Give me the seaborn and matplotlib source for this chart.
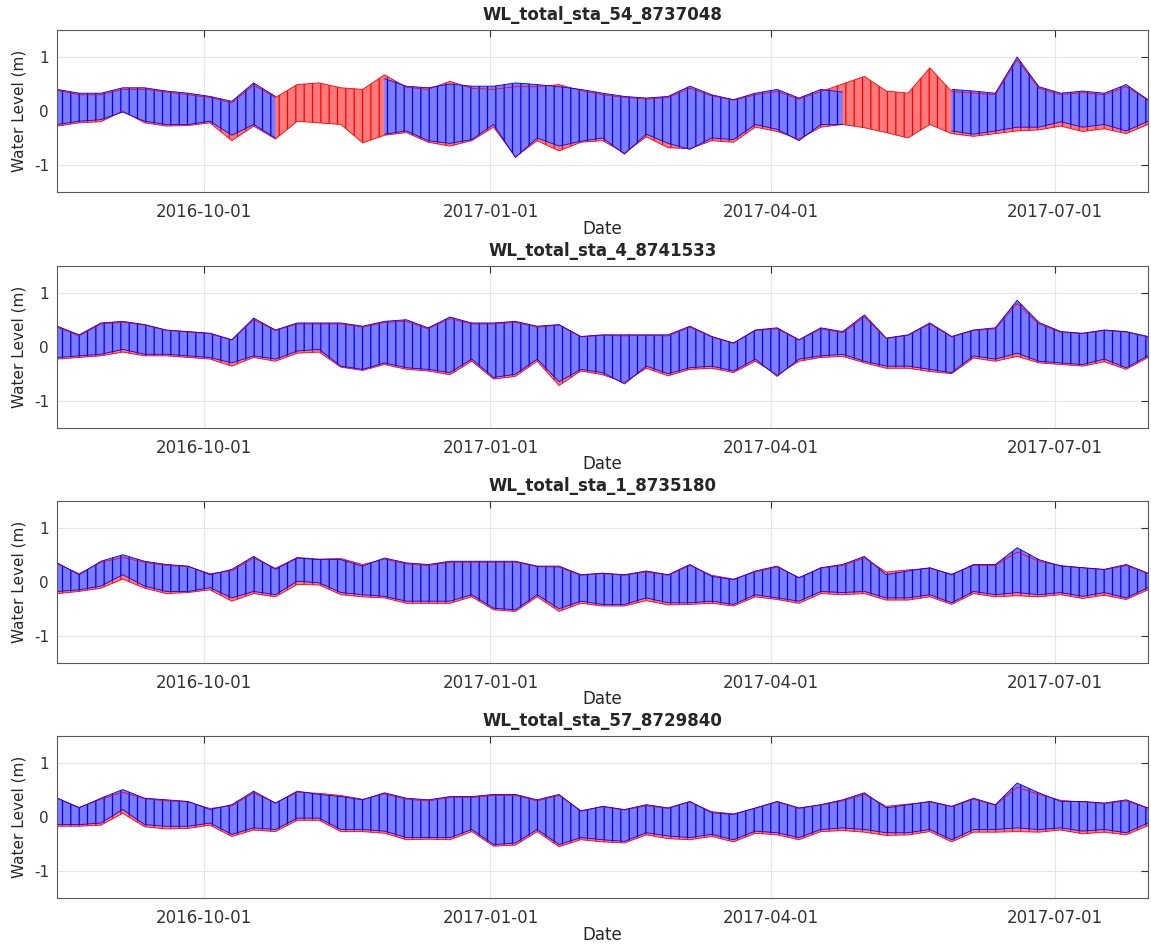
import numpy as np
import pandas as pd
import matplotlib
matplotlib.use("Agg")
import matplotlib.pyplot as plt
import matplotlib.dates as mdates
import seaborn as sns

# weekly envelope (low / high of the tidal strokes), metres
dates = pd.date_range("2016-08-15", periods=51, freq="7D")
nan = np.nan

sta54_blue_hi = [0.40, 0.33, 0.33, 0.43, 0.43, 0.37, 0.33, 0.27, 0.18, 0.52,
                 0.27, nan, nan, nan, nan, 0.60, 0.46, 0.43, 0.50, 0.46,
                 0.46, 0.52, 0.49, 0.45, 0.40, 0.33, 0.27, 0.24, 0.27, 0.46,
                 0.30, 0.21, 0.33, 0.40, 0.24, 0.40, 0.35, nan, nan, nan,
                 nan, 0.40, 0.37, 0.33, 1.00, 0.45, 0.33, 0.37, 0.33, 0.49, 0.21]
sta54_blue_lo = [-0.25, -0.19, -0.16, -0.02, -0.19, -0.25, -0.25, -0.19, -0.45, -0.25,
                 -0.50, nan, nan, nan, nan, -0.43, -0.37, -0.55, -0.60, -0.53,
                 -0.25, -0.86, -0.50, -0.65, -0.56, -0.50, -0.80, -0.43, -0.60, -0.71,
                 -0.50, -0.53, -0.25, -0.34, -0.55, -0.25, -0.25, nan, nan, nan,
                 nan, -0.37, -0.43, -0.37, -0.30, -0.30, -0.20, -0.30, -0.25, -0.37, -0.19]
sta54_red_hi = [0.38, 0.30, 0.30, 0.40, 0.40, 0.35, 0.30, 0.25, 0.15, 0.48,
                0.25, 0.49, 0.52, 0.43, 0.40, 0.67, 0.44, 0.40, 0.55, 0.42,
                0.40, 0.45, 0.45, 0.49, 0.38, 0.30, 0.25, 0.22, 0.25, 0.42,
                0.28, 0.20, 0.30, 0.36, 0.22, 0.36, 0.50, 0.64, 0.37, 0.33,
                0.80, 0.36, 0.33, 0.30, 0.95, 0.42, 0.30, 0.34, 0.30, 0.45, 0.20]
sta54_red_lo = [-0.28, -0.22, -0.20, 0.00, -0.22, -0.28, -0.27, -0.22, -0.55, -0.28,
                -0.52, -0.19, -0.22, -0.25, -0.59, -0.45, -0.40, -0.58, -0.65, -0.55,
                -0.30, -0.85, -0.55, -0.74, -0.58, -0.55, -0.78, -0.48, -0.68, -0.70,
                -0.55, -0.58, -0.30, -0.38, -0.52, -0.30, -0.25, -0.31, -0.40, -0.50,
                -0.25, -0.42, -0.47, -0.42, -0.37, -0.35, -0.28, -0.38, -0.33, -0.42, -0.25]

sta4_blue_hi = [0.38, 0.22, 0.44, 0.47, 0.41, 0.31, 0.28, 0.25, 0.13, 0.53,
                0.31, 0.44, 0.44, 0.44, 0.38, 0.47, 0.50, 0.35, 0.55, 0.44,
                0.44, 0.47, 0.38, 0.41, 0.19, 0.22, 0.22, 0.22, 0.22, 0.38,
                0.19, 0.07, 0.31, 0.35, 0.13, 0.35, 0.28, 0.59, 0.16, 0.22,
                0.44, 0.19, 0.31, 0.35, 0.86, 0.45, 0.28, 0.25, 0.31, 0.28, 0.19]
sta4_blue_lo = [-0.20, -0.17, -0.14, -0.05, -0.14, -0.14, -0.17, -0.20, -0.30, -0.17,
                -0.23, -0.08, -0.05, -0.36, -0.42, -0.30, -0.39, -0.42, -0.48, -0.23,
                -0.57, -0.51, -0.23, -0.65, -0.42, -0.48, -0.69, -0.36, -0.50, -0.39,
                -0.36, -0.45, -0.23, -0.55, -0.23, -0.17, -0.14, -0.27, -0.36, -0.36,
                -0.42, -0.48, -0.17, -0.23, -0.12, -0.27, -0.30, -0.33, -0.23, -0.39, -0.17]
sta4_red_hi = [0.36, 0.20, 0.42, 0.45, 0.40, 0.30, 0.27, 0.24, 0.12, 0.50,
               0.30, 0.42, 0.42, 0.42, 0.36, 0.45, 0.47, 0.33, 0.52, 0.42,
               0.42, 0.45, 0.36, 0.40, 0.18, 0.21, 0.20, 0.21, 0.20, 0.36,
               0.18, 0.06, 0.30, 0.33, 0.12, 0.33, 0.26, 0.55, 0.15, 0.21,
               0.42, 0.18, 0.30, 0.33, 0.80, 0.42, 0.27, 0.24, 0.30, 0.27, 0.18]
sta4_red_lo = [-0.23, -0.20, -0.17, -0.10, -0.17, -0.17, -0.20, -0.23, -0.36, -0.20,
               -0.27, -0.12, -0.10, -0.38, -0.44, -0.33, -0.42, -0.45, -0.52, -0.27,
               -0.60, -0.55, -0.27, -0.72, -0.45, -0.52, -0.66, -0.40, -0.54, -0.42,
               -0.40, -0.48, -0.27, -0.52, -0.27, -0.20, -0.18, -0.30, -0.40, -0.40,
               -0.46, -0.50, -0.21, -0.27, -0.18, -0.30, -0.33, -0.36, -0.28, -0.42, -0.20]

sta1_blue_hi = [0.35, 0.13, 0.38, 0.50, 0.38, 0.32, 0.29, 0.13, 0.23, 0.47,
                0.23, 0.44, 0.41, 0.41, 0.29, 0.44, 0.35, 0.32, 0.38, 0.38,
                0.38, 0.38, 0.29, 0.29, 0.13, 0.16, 0.13, 0.20, 0.13, 0.32,
                0.10, 0.04, 0.20, 0.29, 0.07, 0.26, 0.32, 0.47, 0.13, 0.20,
                0.26, 0.13, 0.32, 0.32, 0.63, 0.41, 0.29, 0.26, 0.23, 0.32, 0.16]
sta1_blue_lo = [-0.18, -0.15, -0.08, 0.13, -0.08, -0.18, -0.18, -0.11, -0.30, -0.18,
                -0.24, 0.01, -0.02, -0.20, -0.24, -0.27, -0.36, -0.36, -0.36, -0.24,
                -0.49, -0.52, -0.24, -0.50, -0.36, -0.42, -0.42, -0.30, -0.39, -0.39,
                -0.36, -0.42, -0.24, -0.30, -0.36, -0.18, -0.20, -0.18, -0.30, -0.30,
                -0.24, -0.39, -0.18, -0.24, -0.20, -0.24, -0.20, -0.27, -0.20, -0.30, -0.11]
sta1_red_hi = [0.33, 0.15, 0.36, 0.45, 0.36, 0.30, 0.28, 0.15, 0.20, 0.44,
               0.25, 0.45, 0.42, 0.43, 0.32, 0.42, 0.33, 0.30, 0.36, 0.36,
               0.36, 0.36, 0.28, 0.27, 0.12, 0.15, 0.12, 0.18, 0.12, 0.30,
               0.12, 0.05, 0.18, 0.27, 0.08, 0.25, 0.30, 0.44, 0.18, 0.22,
               0.25, 0.14, 0.30, 0.30, 0.55, 0.38, 0.30, 0.26, 0.22, 0.30, 0.15]
sta1_red_lo = [-0.22, -0.18, -0.12, 0.05, -0.12, -0.22, -0.20, -0.15, -0.36, -0.22,
               -0.28, -0.05, -0.06, -0.24, -0.28, -0.30, -0.40, -0.40, -0.40, -0.28,
               -0.52, -0.55, -0.28, -0.55, -0.40, -0.45, -0.45, -0.35, -0.43, -0.42,
               -0.40, -0.45, -0.28, -0.33, -0.40, -0.22, -0.24, -0.22, -0.34, -0.34,
               -0.28, -0.42, -0.22, -0.28, -0.26, -0.28, -0.24, -0.31, -0.25, -0.33, -0.15]

sta57_blue_hi = [0.35, 0.17, 0.35, 0.51, 0.35, 0.32, 0.29, 0.14, 0.23, 0.48,
                 0.26, 0.48, 0.42, 0.38, 0.32, 0.45, 0.35, 0.32, 0.38, 0.38,
                 0.42, 0.42, 0.32, 0.42, 0.11, 0.20, 0.14, 0.23, 0.17, 0.29,
                 0.08, 0.05, 0.17, 0.29, 0.17, 0.23, 0.32, 0.45, 0.17, 0.23,
                 0.29, 0.20, 0.35, 0.23, 0.63, 0.45, 0.29, 0.29, 0.26, 0.32, 0.17]
sta57_blue_lo = [-0.14, -0.14, -0.11, 0.14, -0.14, -0.17, -0.17, -0.11, -0.32, -0.20,
                 -0.23, -0.02, -0.02, -0.23, -0.23, -0.26, -0.38, -0.38, -0.38, -0.23,
                 -0.51, -0.48, -0.23, -0.51, -0.38, -0.42, -0.45, -0.29, -0.35, -0.38,
                 -0.32, -0.42, -0.26, -0.29, -0.38, -0.23, -0.20, -0.23, -0.29, -0.29,
                 -0.23, -0.42, -0.23, -0.23, -0.20, -0.23, -0.20, -0.26, -0.23, -0.29, -0.11]
sta57_red_hi = [0.35, 0.18, 0.33, 0.46, 0.34, 0.30, 0.28, 0.16, 0.21, 0.45,
                0.26, 0.46, 0.44, 0.40, 0.33, 0.43, 0.33, 0.30, 0.36, 0.36,
                0.40, 0.40, 0.30, 0.40, 0.12, 0.19, 0.13, 0.21, 0.16, 0.28,
                0.10, 0.06, 0.16, 0.28, 0.16, 0.22, 0.30, 0.42, 0.20, 0.24,
                0.28, 0.19, 0.33, 0.22, 0.55, 0.42, 0.31, 0.28, 0.25, 0.30, 0.16]
sta57_red_lo = [-0.17, -0.17, -0.15, 0.07, -0.18, -0.22, -0.21, -0.15, -0.36, -0.24,
                -0.27, -0.06, -0.06, -0.27, -0.27, -0.30, -0.42, -0.41, -0.42, -0.27,
                -0.54, -0.52, -0.27, -0.55, -0.42, -0.46, -0.48, -0.33, -0.40, -0.42,
                -0.36, -0.46, -0.30, -0.33, -0.42, -0.27, -0.25, -0.28, -0.34, -0.33,
                -0.27, -0.46, -0.28, -0.28, -0.27, -0.28, -0.24, -0.31, -0.28, -0.33, -0.16]

titles = ["WL_total_sta_54_8737048", "WL_total_sta_4_8741533",
          "WL_total_sta_1_8735180", "WL_total_sta_57_8729840"]
panels = [
    (sta54_red_lo, sta54_red_hi, sta54_blue_lo, sta54_blue_hi),
    (sta4_red_lo, sta4_red_hi, sta4_blue_lo, sta4_blue_hi),
    (sta1_red_lo, sta1_red_hi, sta1_blue_lo, sta1_blue_hi),
    (sta57_red_lo, sta57_red_hi, sta57_blue_lo, sta57_blue_hi),
]
tick_dates = pd.to_datetime(["2016-10-01", "2017-01-01", "2017-04-01", "2017-07-01"])

sns.set_style("whitegrid")
plt.rcParams.update({
    "font.family": ["DejaVu Sans"],
    "axes.unicode_minus": False,
    "axes.edgecolor": "#5a5a5a",
    "grid.color": "#e6e6e6",
    "grid.linewidth": 0.8,
    "xtick.direction": "in",
    "ytick.direction": "in",
    "xtick.color": "#333333",
    "ytick.color": "#333333",
    "hatch.linewidth": 0.9,
})


def band(ax, df, lo, hi, face, dark):
    # the tide strokes: filled envelope with vertical hatching
    ax.fill_between(df["Date"], df[lo], df[hi], facecolor=face,
                    edgecolor=dark, hatch="||", linewidth=0)
    seg = df[[lo, hi]].isna().any(axis=1).cumsum()
    edges = df.assign(seg=seg).dropna(subset=[lo, hi])
    for col in (lo, hi):
        sns.lineplot(data=edges, x="Date", y=col, units="seg", estimator=None,
                     color=dark, lw=0.6, ax=ax)


fig = plt.figure(figsize=(11.51, 9.47), dpi=100)
bottoms = [0.7973, 0.5484, 0.3002, 0.0517]

for i, (r_lo, r_hi, b_lo, b_hi) in enumerate(panels):
    ax = fig.add_axes([0.0498, bottoms[i], 0.9476, 0.171])
    df = pd.DataFrame({"Date": dates, "r_lo": r_lo, "r_hi": r_hi,
                       "b_lo": b_lo, "b_hi": b_hi})

    # red series underneath, blue on top
    band(ax, df, "r_lo", "r_hi", "#ff7a7a", "red")
    band(ax, df, "b_lo", "b_hi", "#7c7cff", "blue")

    ax.set_xlim(pd.Timestamp("2016-08-15"), pd.Timestamp("2017-07-31"))
    ax.set_ylim(-1.5, 1.5)
    ax.set_yticks([-1, 0, 1])
    ax.set_xticks(tick_dates)
    ax.xaxis.set_major_formatter(mdates.DateFormatter("%Y-%m-%d"))
    ax.tick_params(top=True, right=True, length=5, width=0.8)
    ax.tick_params(axis="x", labelsize=12, pad=8)
    ax.tick_params(axis="y", labelsize=11, pad=6)
    ax.set_xlabel("Date", fontsize=12, labelpad=-1)
    ax.set_ylabel("Water Level (m)", fontsize=11, labelpad=5)
    ax.set_title(titles[i], fontsize=12, fontweight="bold", pad=7)
    for s in ax.spines.values():
        s.set_linewidth(0.8)

fig.savefig("out.png", dpi=100)
